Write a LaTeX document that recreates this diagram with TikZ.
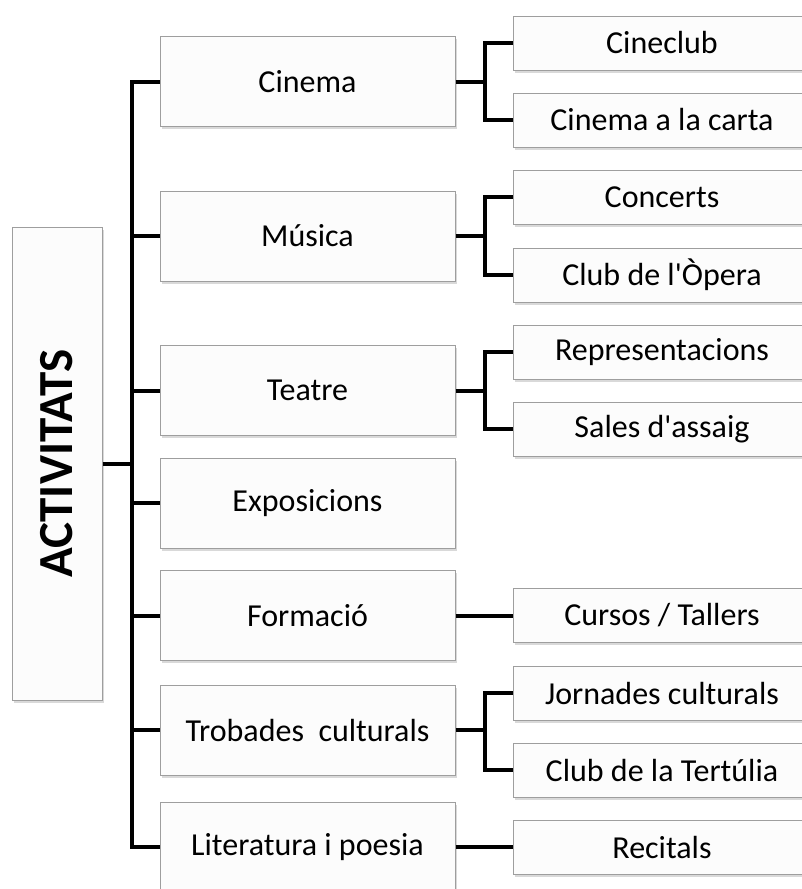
\documentclass[tikz,border=0pt]{standalone}
\usepackage{fontspec}
\setmainfont{Carlito}
\usetikzlibrary{shadows}
\begin{document}
\begin{tikzpicture}[x=1pt,y=-1pt,
    box/.style={draw=black!38,line width=1pt,fill=black!1,inner sep=0pt,
        font=\fontsize{32}{38}\selectfont,
        drop shadow={shadow xshift=2pt,shadow yshift=-2.5pt,opacity=0.3}},
    midbox/.style={box,minimum width=295pt,minimum height=90pt},
    subbox/.style={box,minimum width=298pt,minimum height=54pt},
    conn/.style={line width=4pt}]
    \useasboundingbox (0,0) rectangle (802,889);
    \clip (0,0) rectangle (802,889);
    \node[box,minimum width=90pt,minimum height=473pt] (act) at (57,463.5)
        {\rotatebox{90}{\fontsize{49}{54}\selectfont\bfseries ACTIVITATS}};
    \node[midbox] (cine) at (307.5,81.5) {Cinema};
    \node[midbox] (musi) at (307.5,236) {Música};
    \node[midbox] (teat) at (307.5,390.5) {Teatre};
    \node[midbox] (expo) at (307.5,503) {Exposicions};
    \node[midbox] (form) at (307.5,615.5) {Formació};
    \node[midbox] (trob) at (307.5,730) {Trobades\ \ culturals};
    \node[midbox] (lit) at (307.5,847) {Literatura i poesia};
    \node[subbox] (cclub) at (662,43) {Cineclub};
    \node[subbox] (carta) at (662,120) {Cinema a la carta};
    \node[subbox] (conc) at (662,197) {Concerts};
    \node[subbox] (opera) at (662,275) {Club de l\textquotesingle Òpera};
    \node[subbox] (repr) at (662,352) {Representacions};
    \node[subbox] (sales) at (662,429) {Sales d\textquotesingle assaig};
    \node[subbox] (curs) at (662,615.5) {Cursos / Tallers};
    \node[subbox] (jorn) at (662,693) {Jornades culturals};
    \node[subbox] (tert) at (662,770) {Club de la Tertúlia};
    \node[subbox] (reci) at (662,847) {Recitals};
    \coordinate (tr) at (132,463.5);
    \coordinate (sb) at (485,0);
    \draw[conn] (act.east) -- (tr);
    \draw[conn] (cine.west) -| (tr) |- (lit.west);
    \foreach \n in {musi,teat,expo,form,trob}
        \draw[conn] (tr |- \n.west) -- (\n.west);
    \foreach \m/\a/\b in {cine/cclub/carta,musi/conc/opera,teat/repr/sales,trob/jorn/tert}
    {
        \draw[conn] (\m.east) -- (sb |- \m.east);
        \draw[conn] (\a.west) -| (sb |- \m.east) |- (\b.west);
    }
    \draw[conn] (form) -- (curs);
    \draw[conn] (lit) -- (reci);
\end{tikzpicture}
\end{document}
